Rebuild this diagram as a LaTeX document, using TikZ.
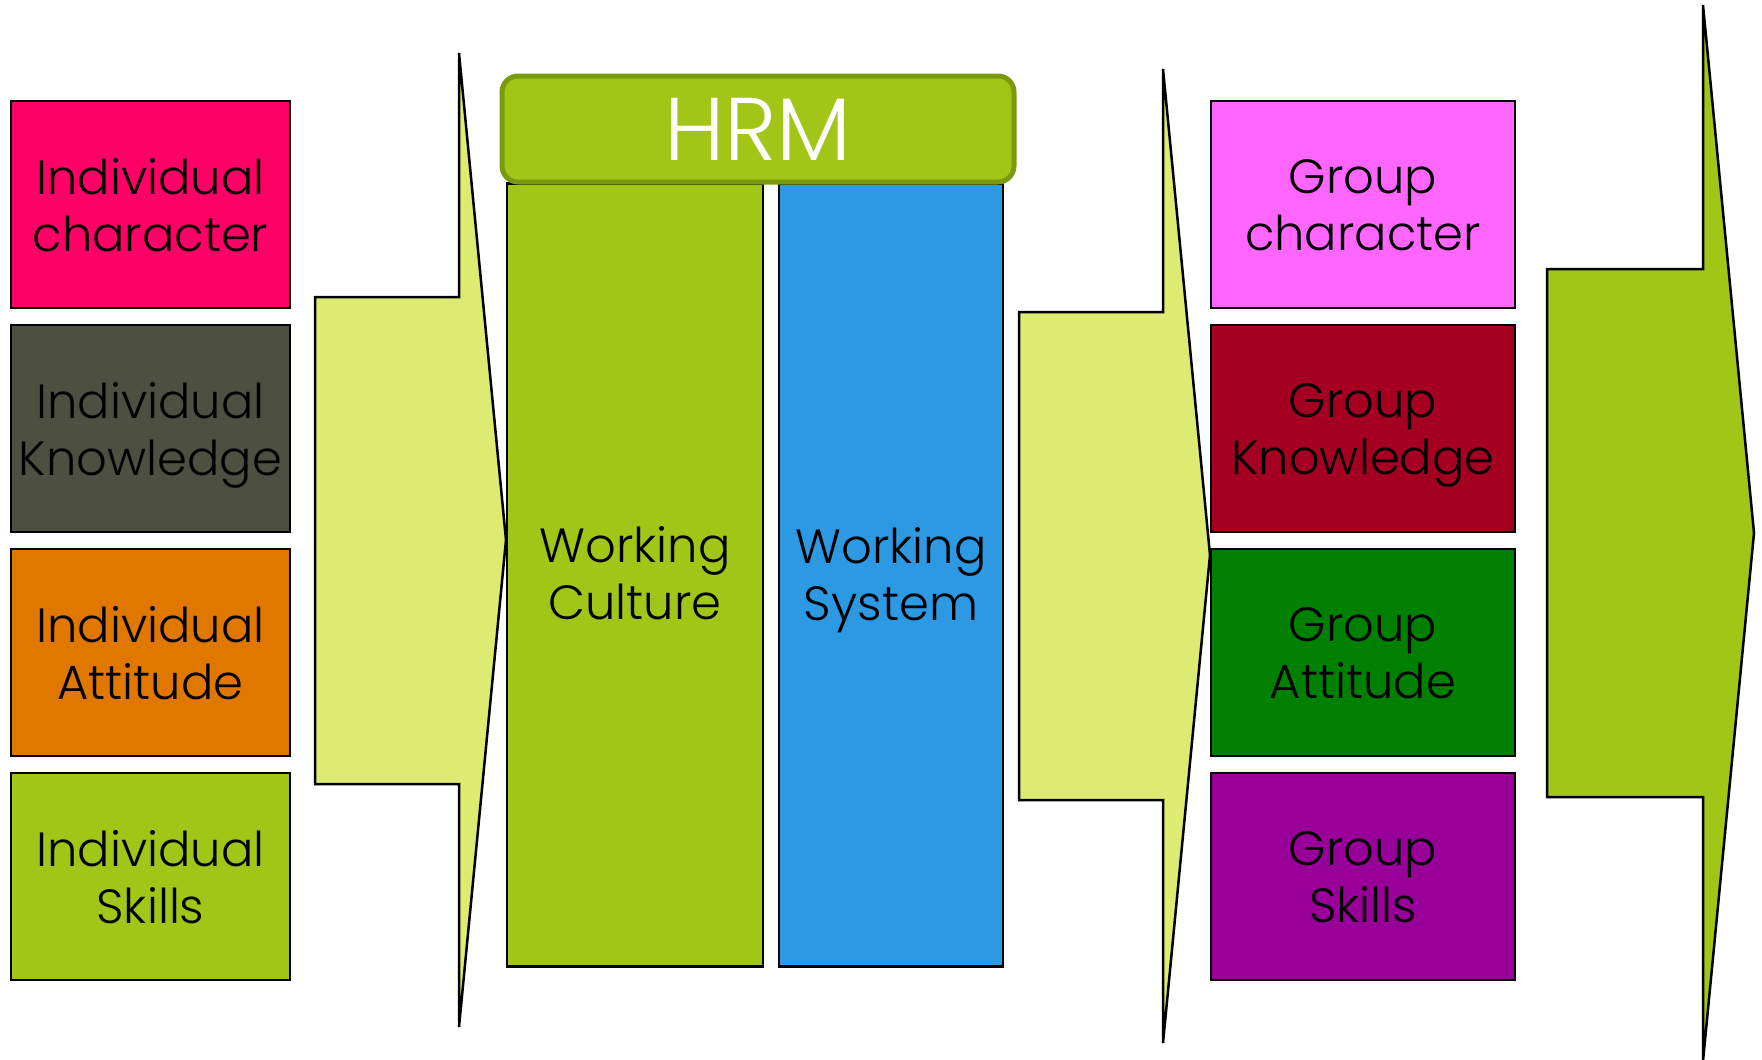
\documentclass[tikz,border=0pt]{standalone}
\usepackage{fontspec}
\setmainfont{Poppins Light}
\definecolor{cPink}{HTML}{FF0066}
\definecolor{cDark}{HTML}{4D4F40}
\definecolor{cOrange}{HTML}{E07800}
\definecolor{cLime}{HTML}{A2C617}
\definecolor{cLight}{HTML}{DDEB73}
\definecolor{cBlue}{HTML}{2C99E2}
\definecolor{cMagenta}{HTML}{FF66FF}
\definecolor{cRed}{HTML}{A50021}
\definecolor{cGreen}{HTML}{008000}
\definecolor{cPurple}{HTML}{990099}
\definecolor{cOlive}{HTML}{7A9A10}
\begin{document}
\begin{tikzpicture}[x=1pt,y=-1pt,
  box/.style={draw=black, line width=2.5pt, inner sep=0pt, anchor=center},
  lbox/.style={box, minimum width=279pt, minimum height=207pt},
  rbox/.style={box, minimum width=304pt, minimum height=207pt},
  lbl/.style={inner sep=0pt, align=center, text=black,
    font=\fontsize{48}{57}\selectfont, anchor=center},
  arrowshape/.style={draw=black, line width=2.5pt, line join=miter},
  column/.style={box, minimum height=783pt, anchor=north}
]
\useasboundingbox (0,0) rectangle (1762,1060);

% arrows
\path[arrowshape, fill=cLight] (315,297) -- (459,297) -- (459,53) -- (506,540) -- (459,1027) -- (459,784) -- (315,784) -- cycle;
\path[arrowshape, fill=cLight] (1019,312) -- (1163,312) -- (1163,69) -- (1210,555) -- (1163,1043) -- (1163,800) -- (1019,800) -- cycle;
\path[arrowshape, fill=cLime] (1547,269) -- (1703,269) -- (1703,5) -- (1754,533) -- (1703,1061) -- (1703,797) -- (1547,797) -- cycle;

% left boxes
\node[lbox, fill=cPink]   (ichar)  at (150.5,204.5) {};
\node[lbox, fill=cDark]   (iknow)  at (150.5,428.5) {};
\node[lbox, fill=cOrange] (iatt)   at (150.5,652.5) {};
\node[lbox, fill=cLime]   (iskill) at (150.5,876.5) {};
\node[lbl] (tichar)  at ([yshift=-7pt]ichar.center)  {Individual\\character\vphantom{g}};
\node[lbl] (tiknow)  at ([yshift=-7pt]iknow.center)  {Individual\\Knowledge};
\node[lbl] (tiatt)   at ([yshift=-7pt]iatt.center)   {Individual\\Attitude\vphantom{g}};
\node[lbl] (tiskill) at ([yshift=-7pt]iskill.center) {Individual\\Skills\vphantom{g}};

% right boxes
\node[rbox, fill=cMagenta] (gchar)  at (1363,204.5) {};
\node[rbox, fill=cRed]     (gknow)  at (1363,428.5) {};
\node[rbox, fill=cGreen]   (gatt)   at (1363,652.5) {};
\node[rbox, fill=cPurple]  (gskill) at (1363,876.5) {};
\node[lbl] (tgchar)  at ([yshift=-7pt]gchar.center)  {Group\\character\vphantom{g}};
\node[lbl] (tgknow)  at ([yshift=-7pt]gknow.center)  {Group\\Knowledge};
\node[lbl] (tgatt)   at ([yshift=-7pt]gatt.center)   {Group\\Attitude\vphantom{g}};
\node[lbl] (tgskill) at ([yshift=-7pt]gskill.center) {Group\\Skills\vphantom{g}};

% columns
\node[column, fill=cLime, minimum width=256pt] (culture) at (635,182) {};
\node[column, fill=cBlue, minimum width=224pt] (system) at (891,182) {};
\node[lbl] (tculture) at ([yshift=-5pt]culture.center) {Working\\Culture\vphantom{g}};
\node[lbl] (tsystem)  at ([yshift=-5pt]system.center)  {Working\\System};

% HRM header
\node[draw=cOlive, fill=cLime, line width=5pt, rounded corners=16pt,
  minimum width=512pt, minimum height=106pt, inner sep=0pt,
  text=white, font=\fontsize{89}{89}\selectfont] (hrm) at (758,129) {HRM};
\end{tikzpicture}
\end{document}
